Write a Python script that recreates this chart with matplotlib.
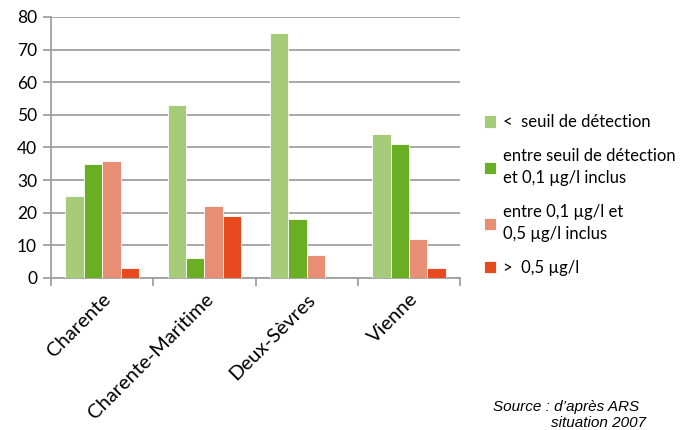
import numpy as np
import matplotlib
matplotlib.use("Agg")
import matplotlib.pyplot as plt

departements = ["Charente", "Charente-Maritime", "Deux-Sèvres", "Vienne"]
series = ["<  seuil de détection",
          "entre seuil de détection\net 0,1 µg/l inclus",
          "entre 0,1 µg/l et\n0,5 µg/l inclus",
          ">  0,5 µg/l"]
sous_seuil = [25, 53, 75, 44]
seuil_01 = [35, 6, 18, 41]
entre_01_05 = [36, 22, 7, 12]
sup_05 = [3, 19, 0, 3]
couleurs = ["#A6CC7A", "#6AAF23", "#E88E74", "#E64A1E"]

plt.rcParams['font.family'] = ['Lato', 'DejaVu Sans']

fig = plt.figure(figsize=(6.82, 4.30), dpi=100)
ax = fig.add_axes([0.0748, 0.3535, 0.60, 0.607])

x = np.arange(len(departements))
largeur = 0.18
valeurs = [sous_seuil, seuil_01, entre_01_05, sup_05]
for i, (v, c, s) in enumerate(zip(valeurs, couleurs, series)):
    ax.bar(x + (i - 1.5) * largeur, v, largeur, color=c, label=s,
           edgecolor="white", linewidth=0.6, zorder=3)

ax.set_xlim(-0.5, 3.5)
ax.set_ylim(0, 80)
ax.set_yticks(range(0, 81, 10))
ax.grid(axis="y", color="#A0A0A0", linewidth=1.3, zorder=0)
ax.tick_params(axis="y", length=6, color="#A0A0A0", width=1.3, labelsize=12.5, pad=4)

# ticks aux limites entre départements
ax.set_xticks(np.arange(-0.5, 4, 1))
ax.set_xticklabels([])
ax.tick_params(axis="x", which="major", length=6, color="#A0A0A0", width=1.3)
ax.set_xticks(x, minor=True)
ax.set_xticklabels(departements, minor=True, rotation=45, ha="right",
                   rotation_mode="anchor", fontsize=14.5)
ax.tick_params(axis="x", which="minor", length=0, pad=9)

for sp in ["top", "right"]:
    ax.spines[sp].set_visible(False)
for sp in ["left", "bottom"]:
    ax.spines[sp].set_color("#A0A0A0")
    ax.spines[sp].set_linewidth(1.3)

leg = fig.legend(loc="upper left", bbox_to_anchor=(0.69, 0.765), frameon=False,
                 fontsize=12, handlelength=0.75, handleheight=0.75,
                 handletextpad=0.4, labelspacing=1.05, borderpad=0.3)
for t in leg.get_texts():
    t.set_linespacing(1.5)

fig.text(0.937, 0.045, "Source : d’après ARS", ha="right", fontsize=11,
         style="italic", family="Liberation Sans")
fig.text(0.947, 0.0, "situation 2007", ha="right", va="bottom", fontsize=11,
         style="italic", family="Liberation Sans")

fig.savefig("out.png", dpi=100)
